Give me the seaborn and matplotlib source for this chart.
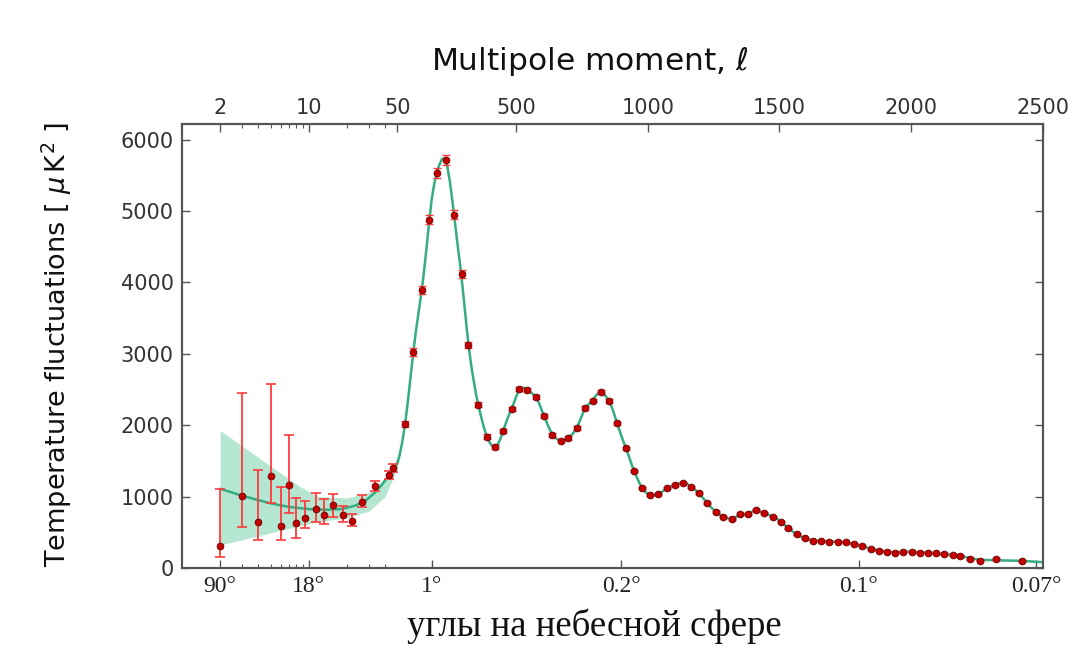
import numpy as np
import pandas as pd
import matplotlib
matplotlib.use("Agg")
import matplotlib.pyplot as plt
import seaborn as sns

# ---------------- data ----------------
# low-ell points with asymmetric error bars
ell_low = [2, 3, 4, 5, 6, 7, 8, 9.4, 11.4, 13.2, 15.6, 18.5, 22, 26.3, 33.6, 42.9, 46.2]
dl_low = [305, 1005, 642, 1287, 592, 1156, 630, 707, 822, 747, 882, 747, 662, 929, 1149, 1303, 1397]
dl_low_hi = [1112, 2458, 1368, 2580, 1130, 1864, 976, 945, 1046, 962, 1036, 870, 760, 1022, 1222, 1360, 1450]
dl_low_lo = [148, 577, 395, 907, 385, 776, 420, 556, 640, 610, 718, 645, 588, 858, 1082, 1250, 1345]

# high-ell binned points
ell_high = [79, 111, 143, 172, 202, 234, 265, 296, 320,
            357, 389, 421, 452, 484, 513, 543, 576, 607, 638,
            670, 699, 731, 762, 792, 823, 855, 885, 917, 948,
            980, 1009, 1040, 1072, 1104, 1135, 1165, 1195, 1226, 1258,
            1287, 1319, 1350, 1382, 1411, 1443, 1475, 1505, 1534, 1566,
            1597, 1629, 1658, 1689, 1721, 1751, 1783, 1814, 1846, 1878,
            1907, 1939, 1970, 2002, 2033, 2063, 2094, 2126, 2158, 2185,
            2221, 2261, 2322, 2419]
dl_high = [2014, 3024, 3897, 4879, 5533, 5710, 4949, 4122, 3126,
           2285, 1841, 1692, 1925, 2229, 2510, 2496, 2402, 2131, 1865,
           1785, 1818, 1958, 2239, 2346, 2463, 2341, 2028, 1678, 1360,
           1117, 1023, 1033, 1117, 1164, 1196, 1140, 1047, 907, 789,
           720, 683, 753, 753, 813, 767, 720, 649, 556, 472,
           416, 383, 379, 369, 369, 360, 336, 308, 266, 243,
           229, 215, 229, 229, 215, 215, 206, 196, 182, 168,
           126, 103, 122, 103]
err_high = [45, 55, 60, 65, 70, 70, 65, 55, 45,
            35, 30, 28, 28, 28, 28, 28, 28, 26, 25,
            24, 24, 24, 24, 24, 24, 23, 22, 20, 18,
            16, 15, 15, 15, 15, 15, 14, 14, 13, 12,
            12, 12, 12, 12, 12, 12, 11, 11, 10, 10,
            10, 10, 10, 10, 10, 10, 10, 10, 10, 10,
            10, 10, 10, 10, 10, 10, 10, 10, 10, 10,
            10, 10, 12, 14]

# best-fit model curve
theory_ell = [2, 3, 4, 5, 7, 10, 14, 18, 23, 28, 33, 38, 43, 48,
              50, 60, 70, 80, 90, 100, 110, 120, 130, 140, 150, 160, 170, 180, 190,
              200, 210, 220, 230, 240, 250, 260, 270, 280, 290, 300, 310, 320, 330,
              340, 350, 360, 370, 380, 390, 400, 410, 420, 430, 440, 450, 460, 470,
              480, 490, 500, 510, 520, 530, 540, 550, 560, 570, 580, 590, 600, 610,
              620, 630, 640, 650, 660, 670, 680, 690, 700, 710, 720, 730, 740, 750,
              760, 770, 780, 790, 800, 810, 820, 830, 840, 850, 860, 870, 880, 890,
              900, 910, 920, 930, 940, 950, 960, 970, 980, 990, 1000, 1010, 1025,
              1040, 1055, 1070, 1085, 1100, 1120, 1135, 1150, 1165, 1180, 1195, 1210,
              1226, 1240, 1258, 1272, 1287, 1303, 1319, 1335, 1350, 1366, 1382, 1396,
              1411, 1427, 1443, 1460, 1475, 1490, 1505, 1520, 1534, 1550, 1566, 1582,
              1597, 1613, 1629, 1660, 1690, 1720, 1750, 1783, 1814, 1846, 1878, 1907,
              1939, 1970, 2002, 2033, 2063, 2094, 2126, 2158, 2185, 2221, 2261, 2320,
              2420, 2500]
theory_dl = [1110, 1010, 950, 905, 855, 825, 815, 825, 870, 940, 1050, 1170, 1300, 1420,
             1470, 1600, 1790, 2030, 2330, 2660, 3000, 3300, 3560, 3820, 4110, 4450, 4820, 5150, 5380,
             5540, 5650, 5730, 5740, 5620, 5400, 5110, 4800, 4490, 4200, 3850, 3480, 3130, 2850,
             2620, 2410, 2240, 2090, 1950, 1840, 1760, 1710, 1695, 1720, 1800, 1900, 2010, 2110,
             2200, 2290, 2390, 2480, 2520, 2525, 2505, 2480, 2450, 2420, 2370, 2290, 2190, 2105,
             2010, 1930, 1860, 1820, 1795, 1785, 1790, 1800, 1820, 1860, 1900, 1955, 2040, 2130,
             2220, 2270, 2310, 2350, 2400, 2440, 2462, 2450, 2410, 2360, 2290, 2190, 2070, 1960,
             1850, 1750, 1650, 1550, 1440, 1345, 1260, 1180, 1117, 1070, 1040, 1022, 1020,
             1033, 1070, 1112, 1140, 1160, 1185, 1196, 1175, 1140, 1095, 1047, 980,
             907, 850, 789, 750, 720, 695, 688, 715, 745, 755, 765, 790,
             805, 790, 767, 745, 718, 690, 649, 600, 556, 510, 472, 440,
             416, 398, 385, 377, 370, 368, 360, 336, 308, 268, 243, 229,
             220, 225, 226, 218, 214, 205, 195, 182, 168, 140, 115, 108,
             100, 80]

# cosmic-variance band at low ell
band_ell = [2, 8.5, 12, 20, 30, 40, 50, 60]
band_hi = [1925, 1140, 1000, 980, 1060, 1260, 1520, 1640]
band_lo = [322, 590, 650, 700, 800, 1000, 1400, 1560]

top_ticks = [2, 10, 50, 500, 1000, 1500, 2000, 2500]
bottom_ticks = [2, 10, 180, 900, 1800, 2475]
bottom_labels = ["90°", "18°", "1°", "0.2°", "0.1°", "0.07°"]
minor_ticks = [3, 4, 5, 6, 7, 8, 9, 20, 30, 40]
y_ticks = [0, 1000, 2000, 3000, 4000, 5000, 6000]

title_text = r"Multipole moment, $\ell$"
ylabel_text = r"Temperature fluctuations [ $\mu\,\mathrm{K}^2$ ]"
xlabel_text = "углы на небесной сфере"

# ---------------- hybrid log/linear scale ----------------
def fwd(l):
    l = np.asarray(l, dtype=float)
    with np.errstate(divide="ignore", invalid="ignore"):
        lg = 0.25 * np.log10(np.clip(l, 1e-3, None)) / np.log10(50.0)
    lin = 0.25 + 0.75 * (l - 50.0) / 2450.0
    return np.where(l <= 50, lg, lin)

def inv(u):
    u = np.asarray(u, dtype=float)
    with np.errstate(over="ignore", invalid="ignore"):
        lg = 50.0 ** (np.clip(u, -10, 10) / 0.25)
    lin = 50.0 + (u - 0.25) / 0.75 * 2450.0
    return np.where(u <= 0.25, lg, lin)

# ---------------- figure ----------------
sns.set_style("ticks")
plt.rcParams["font.family"] = ["DejaVu Sans"]
plt.rcParams["mathtext.fontset"] = "dejavusans"

fig = plt.figure(figsize=(10.92, 6.48), dpi=100)
ax = fig.add_axes([0.1667, 0.1235, 0.7885, 0.6852])
ax.set_xscale("function", functions=(fwd, inv))

band_color = "#b4e6d1"
line_color = "#35ad80"
err_color = "#ff3b3b"
pt_color = "#c40000"

ax.fill_between(band_ell, band_lo, band_hi, color=band_color, lw=0, zorder=1)

df_th = pd.DataFrame({"ell": theory_ell, "dl": theory_dl})
sns.lineplot(data=df_th, x="ell", y="dl", ax=ax, color=line_color, lw=1.8,
             sort=False, zorder=3, estimator=None)

ell_low_a = np.array(ell_low)
dl_low_a = np.array(dl_low)
yerr_low = [dl_low_a - np.array(dl_low_lo), np.array(dl_low_hi) - dl_low_a]
ax.errorbar(ell_low, dl_low, yerr=yerr_low, fmt="none", ecolor=err_color,
            elinewidth=1.3, capsize=3.5, capthick=1.2, zorder=4)
ax.errorbar(ell_high, dl_high, yerr=err_high, fmt="none", ecolor=err_color,
            elinewidth=1.1, capsize=3, capthick=1.0, zorder=4)

df_pts = pd.DataFrame({"ell": ell_low + ell_high, "dl": dl_low + dl_high})
sns.scatterplot(data=df_pts, x="ell", y="dl", ax=ax, color=pt_color, s=24,
                edgecolor="#6a0000", linewidth=0.6, zorder=5)

ax.set_xlim(1, 2500)
ax.set_ylim(0, 6220)
ax.set_xlabel("")
ax.set_ylabel("")

# bottom axis (angles)
ax.set_xticks(bottom_ticks)
ax.set_xticklabels(bottom_labels, family="Liberation Serif", fontsize=17)
ax.xaxis.set_minor_locator(matplotlib.ticker.FixedLocator(minor_ticks))
ax.xaxis.set_minor_formatter(matplotlib.ticker.NullFormatter())
ax.set_yticks(y_ticks)
ax.set_yticklabels([str(v) for v in y_ticks], fontsize=15, color="#333333")
ax.tick_params(axis="both", which="major", direction="in", length=6, width=1,
               color="#555555", top=False, right=True, pad=6)
ax.tick_params(axis="x", which="minor", direction="in", length=3, width=0.8,
               color="#555555")
ax.tick_params(axis="x", labelcolor="#222222")

# top axis (multipoles)
ax2 = ax.twiny()
ax2.set_xscale("function", functions=(fwd, inv))
ax2.set_xlim(1, 2500)
ax2.set_xticks(top_ticks)
ax2.set_xticklabels([str(t) for t in top_ticks], fontsize=15, color="#333333")
ax2.xaxis.set_minor_locator(matplotlib.ticker.FixedLocator(minor_ticks))
ax2.xaxis.set_minor_formatter(matplotlib.ticker.NullFormatter())
ax2.tick_params(axis="x", which="major", direction="in", length=6, width=1,
                color="#555555", pad=4)
ax2.tick_params(axis="x", which="minor", direction="in", length=3, width=0.8,
                color="#555555")

for a in (ax, ax2):
    for sp in a.spines.values():
        sp.set_visible(True)
        sp.set_color("#555555")
        sp.set_linewidth(1.5)

fig.text(0.540, 1 - 62 / 648, title_text, ha="center", va="center",
         fontsize=22.5, color="#111111")
fig.text(0.052, 1 - 345 / 648, ylabel_text, ha="center", va="center", rotation=90,
         fontsize=19.5, color="#111111")
fig.text(0.544, 1 - 626 / 648, xlabel_text, ha="center", va="center",
         fontsize=26.5, family="Liberation Serif", color="#111111")

fig.savefig("out.png", dpi=100, facecolor="white")
